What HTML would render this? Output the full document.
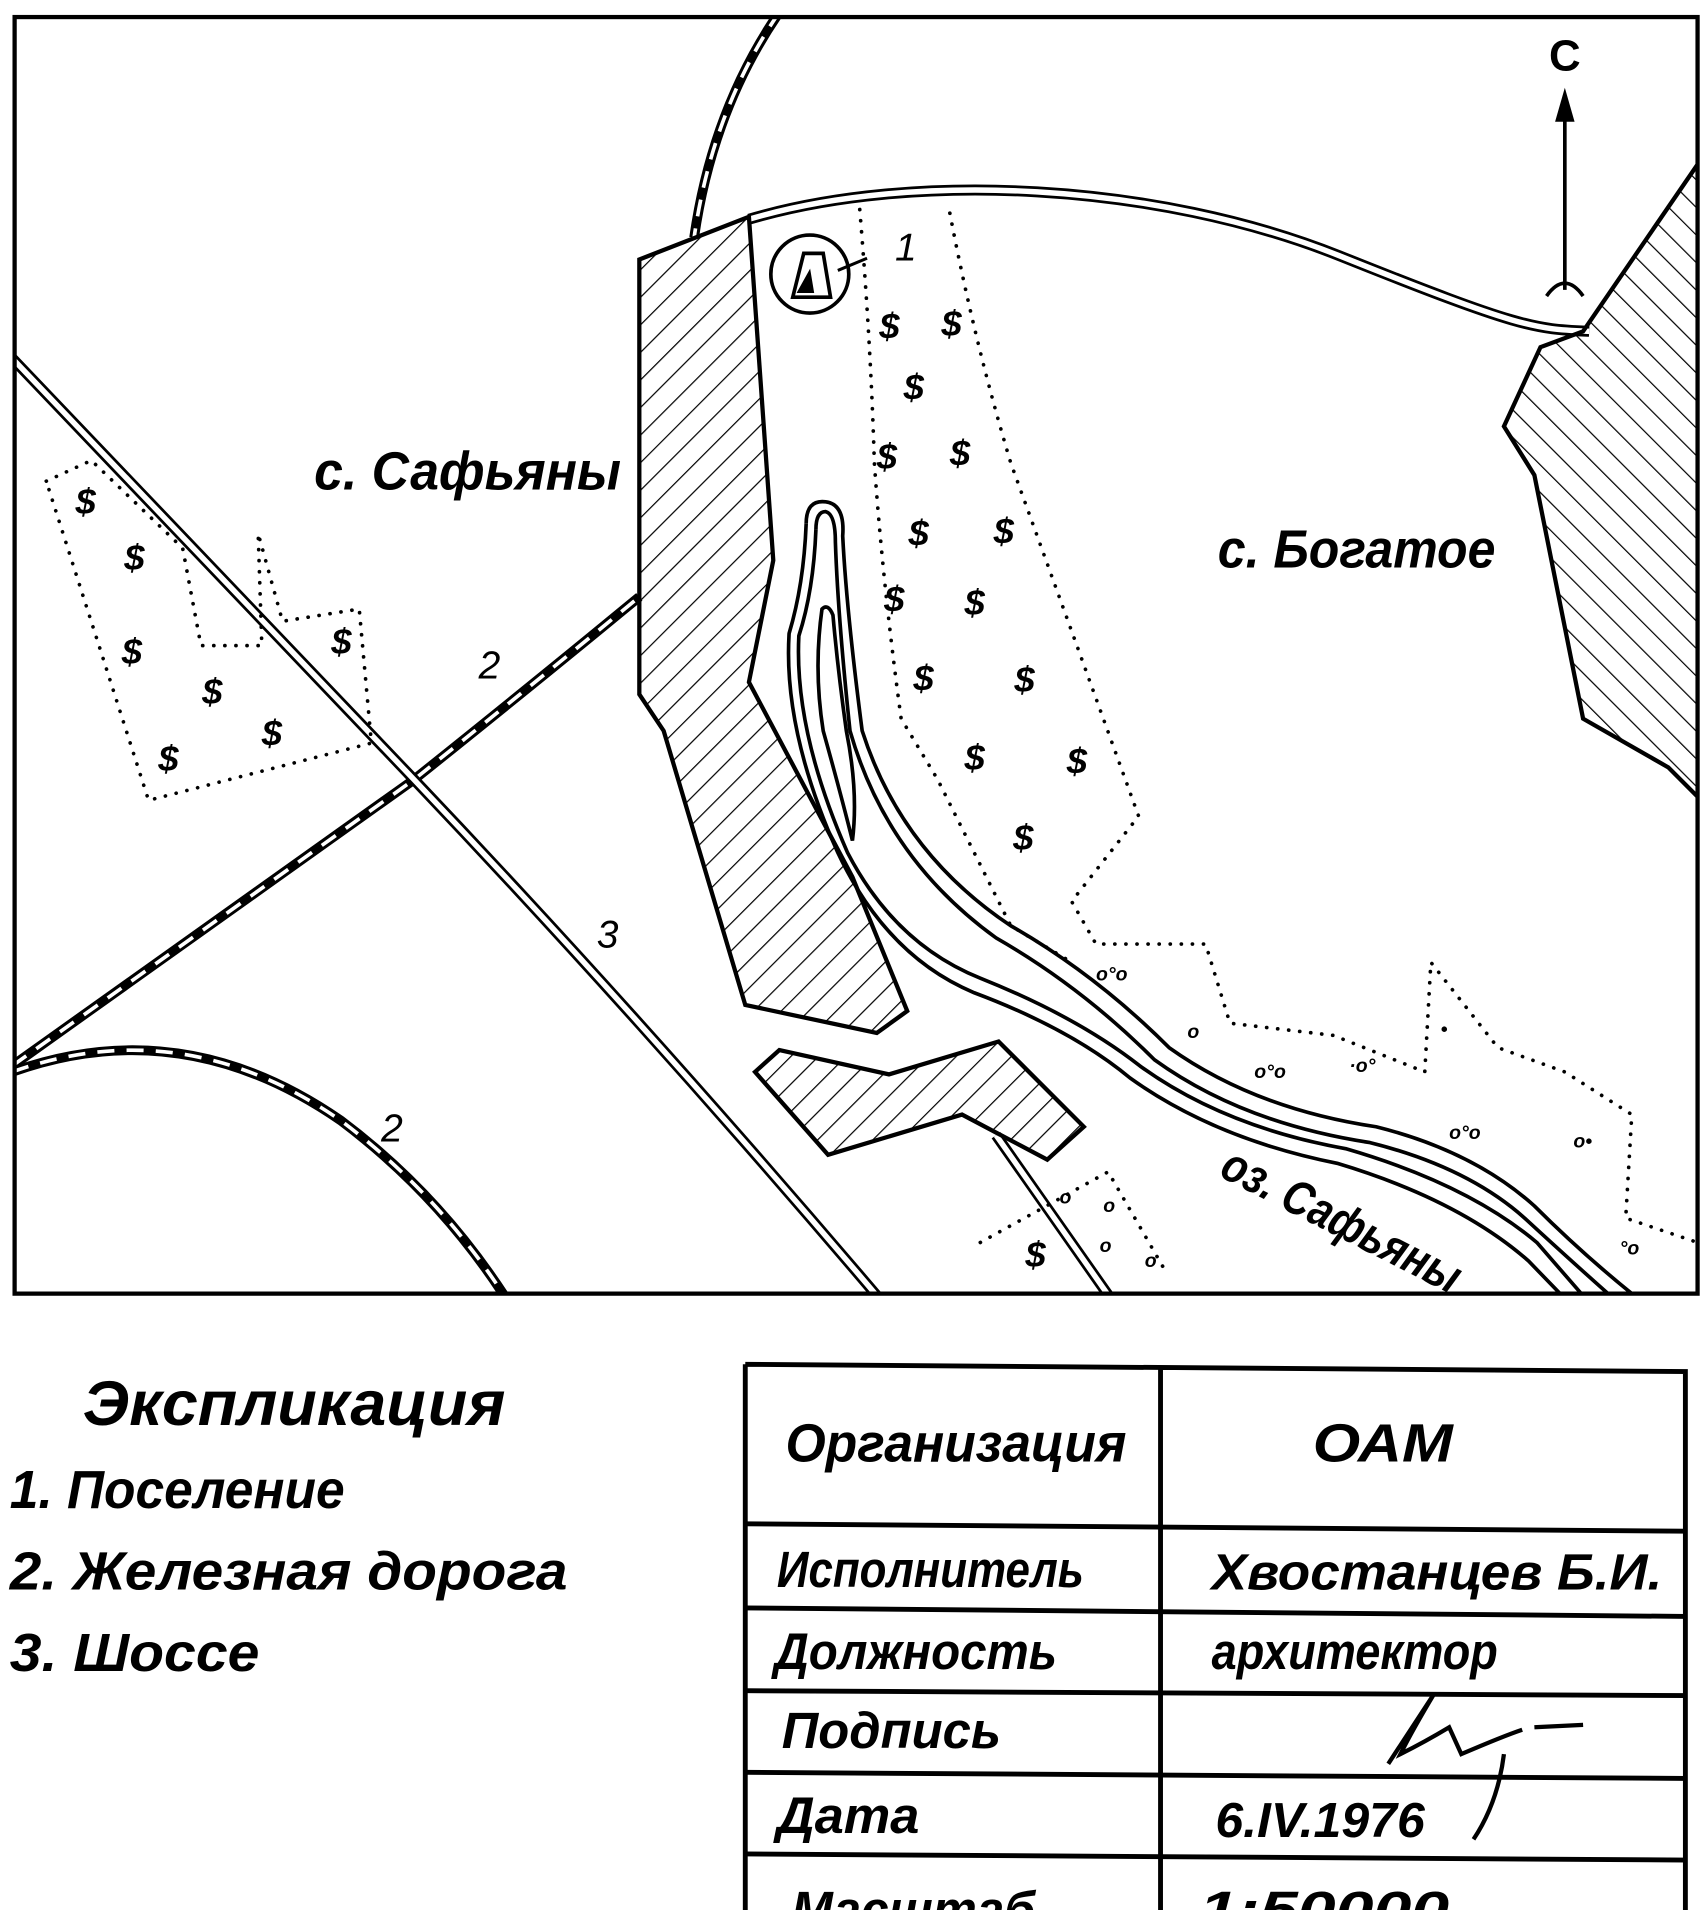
<!DOCTYPE html>
<html><head><meta charset="utf-8"><style>
html,body{margin:0;padding:0;background:#fff;}
svg{display:block;}
text{font-family:"Liberation Sans","DejaVu Sans",sans-serif;font-style:italic;font-weight:bold;fill:#000;}
.t{font-weight:normal;}
</style></head><body>
<svg width="1700" height="1910" viewBox="0 0 1396 1568" preserveAspectRatio="none" xmlns="http://www.w3.org/2000/svg">
<defs>
<pattern id="h1" patternUnits="userSpaceOnUse" width="16" height="16" patternTransform="rotate(45)"><line x1="0" y1="0" x2="0" y2="16" stroke="#000" stroke-width="2"/></pattern>
<pattern id="h2" patternUnits="userSpaceOnUse" width="16" height="16" patternTransform="rotate(-45)"><line x1="0" y1="0" x2="0" y2="16" stroke="#000" stroke-width="2"/></pattern>
<clipPath id="map"><rect x="12" y="14" width="1382" height="1048"/></clipPath>
</defs>
<rect x="0" y="0" width="1396" height="1568" fill="#fff"/>
<g clip-path="url(#map)" fill="none" stroke="#000">
<g stroke-width="8"><path d="M640,10 Q585,90 570,195"/><path d="M10,875 Q200,740 340,640 Q440,560 525,490"/><path d="M10,880 Q150,830 280,920 Q360,980 415,1065"/></g>
<g stroke="#fff" stroke-width="3" stroke-dasharray="14 10"><path d="M640,10 Q585,90 570,195"/><path d="M10,875 Q200,740 340,640 Q440,560 525,490"/><path d="M10,880 Q150,830 280,920 Q360,980 415,1065"/></g>
<g stroke-width="9"><path d="M8,292 L340,640 Q530,840 722,1066"/><path d="M615,180 C750,140 950,150 1100,210 S1260,270 1305,272"/><path d="M818,932 L912,1066"/></g>
<g stroke="#fff" stroke-width="4.5"><path d="M8,292 L340,640 Q530,840 722,1066"/><path d="M615,180 C750,140 950,150 1100,210 S1260,270 1305,272"/><path d="M818,932 L912,1066"/></g>
<g stroke-width="3.5">
<polygon points="525,213 615,178 635,460 615,560 700,720 745,830 720,848 612,825 545,600 525,570" fill="url(#h1)"/>
<polygon points="620,880 640,862 730,882 820,855 890,925 860,952 790,915 680,948" fill="url(#h1)"/>
<polygon points="1300,272 1394,135 1400,660 1370,630 1300,590 1260,390 1235,350 1265,285" fill="url(#h2)"/>
</g>
<g stroke-width="3">
<path d="M662,430 Q662,410 678,412 Q694,414 692,440 Q695,500 708,600 Q740,700 830,760 Q900,800 960,860 Q1030,910 1130,925 Q1210,945 1260,990 Q1300,1030 1345,1066"/>
<path d="M662,430 Q660,480 648,520 Q643,600 688,700 Q728,785 800,815 Q880,845 928,885 Q998,935 1098,955 Q1198,985 1255,1035 L1285,1066"/>
<path d="M670,435 Q670,420 678,420 Q686,422 686,445 Q688,505 698,600 Q728,705 818,770 Q888,810 948,870 Q1020,922 1125,938 Q1205,958 1252,1000 Q1290,1035 1325,1066"/>
<path d="M670,435 Q668,485 656,522 Q652,600 696,700 Q735,775 805,803 Q885,835 936,875 Q1005,925 1105,943 Q1205,972 1262,1020 L1302,1066"/>
<path d="M675,500 Q668,550 676,600 Q690,650 700,690 Q705,650 695,600 Q688,550 684,505 Q680,495 675,500Z"/>
</g>
<g stroke-width="3" stroke-dasharray="0.1 9" stroke-linecap="round">
<path d="M706,172 Q715,280 718,380 Q725,480 740,590 L770,640 L830,760 L880,790"/>
<path d="M780,175 Q800,280 830,380 L935,670 L880,740 L900,775 L990,775 L1010,840 L1095,850 L1170,880 L1175,790 L1230,860 L1285,880 L1340,915 L1335,1000 L1394,1020"/>
<path d="M38,395 L75,378 L150,450 L165,530 L215,530 L212,438 L232,510 L295,500 L305,610 L122,657 Z"/>
<path d="M805,1020 L910,962 L955,1040"/>
</g>
<circle cx="665" cy="225" r="32" stroke-width="3"/>
<path d="M651,244 L660,208 L676,208 L682,244 Z" stroke-width="3"/>
<path d="M655,240 L665,222 L668,240Z" fill="#000"/>
<line x1="688" y1="222" x2="712" y2="212" stroke-width="2.5"/>
</g>
<rect x="12" y="14" width="1382" height="1048" fill="none" stroke="#000" stroke-width="3.5"/>
<g font-size="30">
<text x="722" y="278">$</text><text x="773" y="276">$</text><text x="742" y="328">$</text><text x="720" y="385">$</text><text x="780" y="382">$</text>
<text x="746" y="448">$</text><text x="816" y="446">$</text><text x="726" y="502">$</text><text x="792" y="505">$</text><text x="750" y="567">$</text><text x="833" y="568">$</text>
<text x="792" y="632">$</text><text x="876" y="635">$</text><text x="832" y="698">$</text>
<text x="62" y="422">$</text><text x="102" y="468">$</text><text x="100" y="545">$</text><text x="166" y="578">$</text><text x="215" y="612">$</text><text x="272" y="537">$</text><text x="130" y="633">$</text>
<text x="842" y="1040">$</text>
</g>
<g font-size="16">
<text x="900" y="805">o°o</text><text x="975" y="852">o</text><text x="1030" y="885">o°o</text><text x="1108" y="880">·o°</text><text x="1183" y="850">•</text><text x="1190" y="935">o°o</text><text x="1292" y="942">o•</text><text x="1330" y="1030">°o</text><text x="870" y="988">o</text><text x="906" y="995">o</text><text x="903" y="1028">o</text><text x="940" y="1040">o</text>
</g>
<text x="258" y="402" font-size="44" textLength="252" lengthAdjust="spacingAndGlyphs">с. Сафьяны</text>
<text x="1000" y="466" font-size="44" textLength="228" lengthAdjust="spacingAndGlyphs">с. Богатое</text>
<text x="1000" y="965" font-size="40" transform="rotate(27 1000 965)" textLength="215" lengthAdjust="spacingAndGlyphs">оз. Сафьяны</text>
<text x="735" y="214" font-size="32" class="t">1</text>
<text x="393" y="557" font-size="32" class="t">2</text>
<text x="490" y="778" font-size="32" class="t">3</text>
<text x="313" y="937" font-size="32" class="t">2</text>
<text x="1272" y="58" font-size="36" style="font-style:normal">С</text>
<line x1="1285" y1="90" x2="1285" y2="238" stroke="#000" stroke-width="3"/>
<polygon points="1285,72 1277,100 1293,100" fill="#000"/>
<path d="M1270,243 Q1285,222 1300,243" fill="none" stroke="#000" stroke-width="3"/>
<g class="t">
<text x="68" y="1170" font-size="52" textLength="347" lengthAdjust="spacingAndGlyphs">Экспликация</text>
<text x="8" y="1238" font-size="44" textLength="275" lengthAdjust="spacingAndGlyphs">1. Поселение</text>
<text x="8" y="1305" font-size="44" textLength="458" lengthAdjust="spacingAndGlyphs">2. Железная дорога</text>
<text x="8" y="1372" font-size="44" textLength="205" lengthAdjust="spacingAndGlyphs">3. Шоссе</text>
</g>
<g stroke="#000" stroke-width="4" fill="none">
<path d="M612,1120 L1386,1126 M612,1120 L612,1570 M953,1122 L953,1570 M1384,1126 L1384,1570"/>
<path d="M612,1251 L1384,1257 M612,1320 L1384,1327 M612,1388 L1384,1392 M612,1455 L1384,1460 M612,1522 L1384,1527"/>
</g>
<g>
<text x="645" y="1200" font-size="44" textLength="280" lengthAdjust="spacingAndGlyphs">Организация</text>
<text x="1078" y="1200" font-size="44" textLength="115" lengthAdjust="spacingAndGlyphs">ОАМ</text>
<text x="638" y="1303" font-size="42" textLength="252" lengthAdjust="spacingAndGlyphs">Исполнитель</text>
<text x="995" y="1305" font-size="42" textLength="370" lengthAdjust="spacingAndGlyphs">Хвостанцев Б.И.</text>
<text x="636" y="1370" font-size="42" textLength="232" lengthAdjust="spacingAndGlyphs">Должность</text>
<text x="995" y="1370" font-size="42" textLength="235" lengthAdjust="spacingAndGlyphs">архитектор</text>
<text x="642" y="1435" font-size="42" textLength="180" lengthAdjust="spacingAndGlyphs">Подпись</text>
<text x="638" y="1505" font-size="42" textLength="117" lengthAdjust="spacingAndGlyphs">Дата</text>
<text x="998" y="1508" font-size="40" textLength="172" lengthAdjust="spacingAndGlyphs">6.IV.1976</text>
<text x="650" y="1582" font-size="42" textLength="200" lengthAdjust="spacingAndGlyphs">Масштаб</text>
<text x="985" y="1582" font-size="42" textLength="205" lengthAdjust="spacingAndGlyphs">1:50000</text>
</g>
<path d="M1140,1448 Q1165,1410 1178,1390 Q1160,1420 1150,1440 Q1170,1430 1190,1418 L1200,1440 Q1235,1425 1250,1420 M1260,1418 L1300,1416 M1235,1440 Q1230,1480 1210,1510" fill="none" stroke="#000" stroke-width="3.5"/>
</svg>
</body></html>
